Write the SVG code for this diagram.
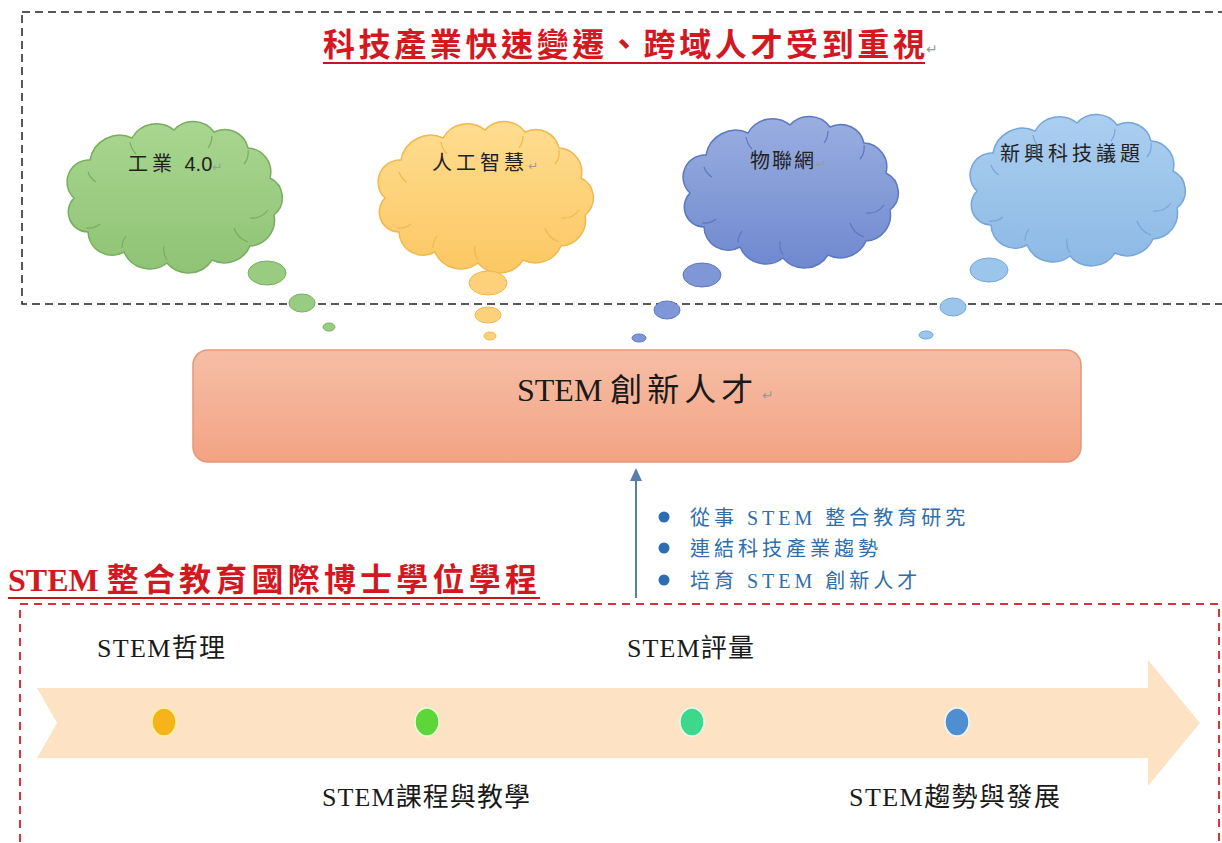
<svg xmlns="http://www.w3.org/2000/svg" xmlns:xlink="http://www.w3.org/1999/xlink" width="1222" height="843" viewBox="0 0 1222 843">
<style>
.cjk{font-family:"Liberation Serif","Noto Sans CJK TC",serif;}
.title{font-weight:bold;fill:#d3181f;}
.ctext{font-size:20px;fill:#222;font-family:"Noto Sans CJK TC","Liberation Sans",sans-serif;}
.mark{fill:#9a9a9a;font-family:"DejaVu Sans",sans-serif;font-weight:normal;}
.bullet{font-size:20px;fill:#2f6ea8;letter-spacing:4px;}
.tl{font-size:26px;fill:#1a1a1a;}
</style>
<defs>
<path id="cloudShape" d="M12,78 A22,22 0 0 1 28,40 A30,30 0 0 1 70,18 A28,28 0 0 1 112,10 A26,26 0 0 1 152,12 A24,24 0 0 1 186,28 A24,24 0 0 1 208,58 A22,22 0 0 1 212,95 A26,26 0 0 1 188,126 A28,28 0 0 1 150,140 A28,28 0 0 1 105,143 A28,28 0 0 1 62,132 A24,24 0 0 1 26,112 A20,20 0 0 1 12,78 Z"/>
<path id="cloudInner" d="M26,52 A18,18 0 0 0 34,62 M68,22 A22,22 0 0 0 74,34 M150,16 A20,20 0 0 1 146,28 M186,30 A18,18 0 0 1 182,44 M206,90 A20,20 0 0 1 188,98 M186,122 A22,22 0 0 1 172,108 M105,140 A20,20 0 0 1 102,126 M60,128 A20,20 0 0 1 64,116 M24,108 A18,18 0 0 0 38,104" fill="none"/>
<linearGradient id="gGreen" x1="0" y1="0" x2="0" y2="1"><stop offset="0" stop-color="#a9d690"/><stop offset="1" stop-color="#8fc375"/></linearGradient>
<linearGradient id="gYellow" x1="0" y1="0" x2="0" y2="1"><stop offset="0" stop-color="#fedd90"/><stop offset="1" stop-color="#fcc763"/></linearGradient>
<linearGradient id="gBlue" x1="0" y1="0" x2="0" y2="1"><stop offset="0" stop-color="#9aaee0"/><stop offset="1" stop-color="#6f89cf"/></linearGradient>
<linearGradient id="gLight" x1="0" y1="0" x2="0" y2="1"><stop offset="0" stop-color="#accff0"/><stop offset="1" stop-color="#8cb9e5"/></linearGradient>
<linearGradient id="gBox" x1="0" y1="0" x2="0" y2="1"><stop offset="0" stop-color="#f6bea6"/><stop offset="1" stop-color="#f3a383"/></linearGradient>
</defs>

<!-- top dashed frame and title -->
<g id="top-frame">
<rect x="22" y="12" width="1215" height="292" fill="none" stroke="#222" stroke-width="1.5" stroke-dasharray="8,5"/>
<text class="cjk title" x="323" y="56" font-size="32" textLength="602" lengthAdjust="spacing">科技產業快速變遷、跨域人才受到重視</text>
<text class="mark" x="926" y="54" font-size="14">↵</text>
<line x1="323" y1="63" x2="925" y2="63" stroke="#c8141b" stroke-width="2"/>
</g>

<g id="cloud-industry">
<g transform="translate(62,120)"><use xlink:href="#cloudShape" fill="url(#gGreen)" stroke="#78ad5f" stroke-width="1.5"/><use xlink:href="#cloudInner" stroke="#78ad5f" stroke-width="1.2"/></g>
<ellipse cx="267" cy="273" rx="19" ry="12" fill="#99cc80" stroke="#78ad5f"/>
<ellipse cx="302" cy="303" rx="13" ry="9" fill="#99cc80" stroke="#78ad5f"/>
<ellipse cx="329" cy="327" rx="6" ry="4" fill="#99cc80" stroke="#78ad5f"/>
<text class="ctext" x="128" y="171"><tspan letter-spacing="4">工業 </tspan><tspan font-family="Liberation Sans, sans-serif">4.0</tspan><tspan class="mark" font-size="12">↵</tspan></text>
</g>

<g id="cloud-ai">
<g transform="translate(373,120)"><use xlink:href="#cloudShape" fill="url(#gYellow)" stroke="#efb94f" stroke-width="1.5"/><use xlink:href="#cloudInner" stroke="#efb94f" stroke-width="1.2"/></g>
<ellipse cx="488" cy="283" rx="19" ry="12" fill="#fdd07a" stroke="#efb94f"/>
<ellipse cx="488" cy="315" rx="13" ry="8" fill="#fdd07a" stroke="#efb94f"/>
<ellipse cx="490" cy="336" rx="6" ry="4" fill="#fdd07a" stroke="#efb94f"/>
<text class="ctext" x="432" y="170" letter-spacing="4">人工智慧<tspan class="mark" font-size="12">↵</tspan></text>
</g>

<g id="cloud-iot">
<g transform="translate(678,115)"><use xlink:href="#cloudShape" fill="url(#gBlue)" stroke="#5d78c0" stroke-width="1.5"/><use xlink:href="#cloudInner" stroke="#5d78c0" stroke-width="1.2"/></g>
<ellipse cx="702" cy="275" rx="19" ry="12" fill="#7f97d6" stroke="#5d78c0"/>
<ellipse cx="667" cy="310" rx="13" ry="9" fill="#7f97d6" stroke="#5d78c0"/>
<ellipse cx="639" cy="338" rx="7" ry="4" fill="#7f97d6" stroke="#5d78c0"/>
<text class="ctext" x="750" y="168" letter-spacing="2">物聯網<tspan class="mark" font-size="12">↵</tspan></text>
</g>

<g id="cloud-emerging">
<g transform="translate(965,113)"><use xlink:href="#cloudShape" fill="url(#gLight)" stroke="#76a6d8" stroke-width="1.5"/><use xlink:href="#cloudInner" stroke="#76a6d8" stroke-width="1.2"/></g>
<ellipse cx="989" cy="270" rx="19" ry="12" fill="#9cc5ec" stroke="#76a6d8"/>
<ellipse cx="953" cy="307" rx="13" ry="9" fill="#9cc5ec" stroke="#76a6d8"/>
<ellipse cx="926" cy="335" rx="7" ry="4" fill="#9cc5ec" stroke="#76a6d8"/>
<text class="ctext" x="1000" y="161" letter-spacing="4">新興科技議題</text>
</g>

<g id="stem-talent">
<rect x="193" y="350" width="888" height="112" rx="15" ry="15" fill="url(#gBox)" stroke="#e5977a" stroke-width="1.5"/>
<text class="cjk" x="517" y="401" font-size="32" fill="#1a1a1a">STEM <tspan letter-spacing="5">創新人才</tspan></text>
<text class="mark" x="762" y="400" font-size="14">↵</text>
</g>

<g id="connectors">
<line x1="636" y1="598" x2="636" y2="478" stroke="#5a7db0" stroke-width="2"/>
<polygon points="636,468 630,481 642,481" fill="#5a7db0"/>
</g>

<g id="goals">
<circle cx="664" cy="517" r="5.5" fill="#2e6db4"/>
<circle cx="664" cy="548" r="5.5" fill="#2e6db4"/>
<circle cx="664" cy="580" r="5.5" fill="#2e6db4"/>
<text class="cjk bullet" x="690" y="525">從事 STEM 整合教育研究</text>
<text class="cjk bullet" x="690" y="556">連結科技產業趨勢</text>
<text class="cjk bullet" x="690" y="588">培育 STEM 創新人才</text>
</g>

<g id="program">
<text class="cjk title" x="8" y="591" font-size="32">STEM <tspan letter-spacing="4.2">整合教育國際博士學位學程</tspan></text>
<line x1="8" y1="598" x2="540" y2="598" stroke="#c8141b" stroke-width="2"/>
<rect x="20" y="604" width="1199" height="250" fill="none" stroke="#d9343a" stroke-width="2" stroke-dasharray="8,6"/>
</g>

<g id="timeline">
<polygon points="37,688 1148,688 1148,660 1200,723 1148,786 1148,758 37,758 57,723" fill="#fde2c4"/>
<ellipse cx="164" cy="722" rx="12" ry="14" fill="#f6b31a" stroke="#fff2a0" stroke-width="1.5"/>
<ellipse cx="427" cy="722" rx="12" ry="14" fill="#5dd63a" stroke="#e8ffd8" stroke-width="1.5"/>
<ellipse cx="692" cy="722" rx="12" ry="14" fill="#3ed88b" stroke="#e0fff0" stroke-width="1.5"/>
<ellipse cx="957" cy="722" rx="12" ry="14" fill="#4f8fd0" stroke="#eef6ff" stroke-width="1.5"/>
<text class="cjk tl" x="97" y="657" textLength="128" lengthAdjust="spacing">STEM哲理</text>
<text class="cjk tl" x="627" y="657" textLength="127" lengthAdjust="spacing">STEM評量</text>
<text class="cjk tl" x="322" y="806" textLength="208" lengthAdjust="spacing">STEM課程與教學</text>
<text class="cjk tl" x="849" y="806" textLength="211" lengthAdjust="spacing">STEM趨勢與發展</text>
</g>
</svg>
